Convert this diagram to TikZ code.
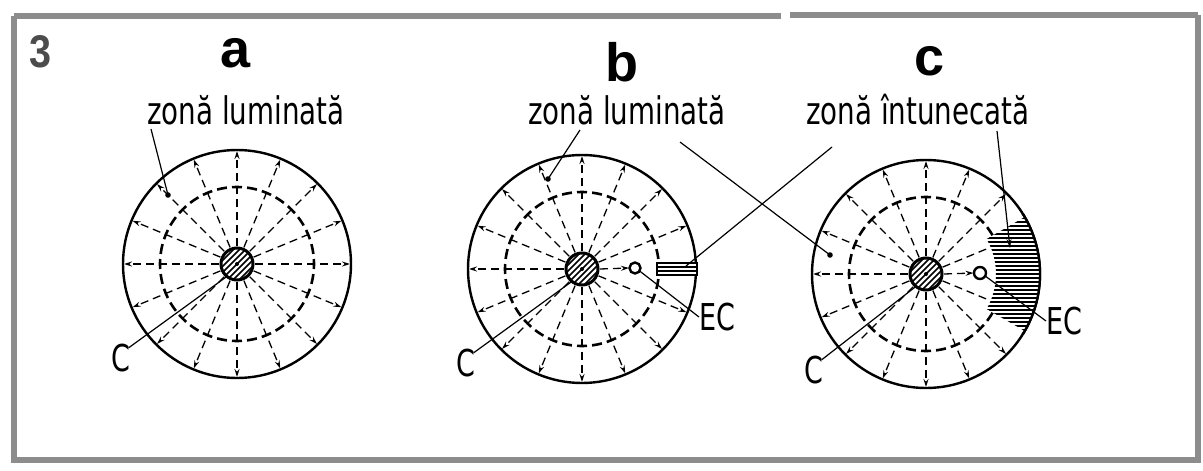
\documentclass[tikz,border=0pt]{standalone}
\usepackage{fontspec}
\usetikzlibrary{arrows.meta,calc}
\newfontfamily\din[FakeStretch=0.73]{DejaVu Sans}
\newfontfamily\headf{Liberation Sans}
\definecolor{framegray}{gray}{0.55}
\definecolor{numgray}{gray}{0.3}
\newcommand\hatchcore[1]{%
  \begin{scope}
    \clip (#1) circle (16);
    \foreach \k in {-36,-30,...,36} {\draw[line width=1.6pt] ($(#1)+(-22+\k,22)$) -- ($(#1)+(22+\k,-22)$);}
  \end{scope}
  \draw[core] (#1) circle (16);
  \fill (#1) circle (2);
}
\begin{document}
\begin{tikzpicture}[x=1pt,y=-1pt,
  outer/.style={line width=2.4pt},
  innerdash/.style={line width=2.6pt, dash pattern=on 10pt off 5.12pt, dash phase=5pt},
  radial/.style={line width=1.3pt, dash pattern=on 8pt off 5pt},
  tipped/.style={-{Stealth[length=8pt,width=5pt]}},
  leader/.style={line width=1.2pt},
  core/.style={line width=3pt},
  ecring/.style={line width=2.4pt, fill=white},
  lab/.style={font=\din\fontsize{38}{42}\selectfont, inner sep=0pt, anchor=base},
  clab/.style={font=\din\fontsize{37}{40}\selectfont, inner sep=0pt},
  big/.style={font=\headf\bfseries\fontsize{54}{60}\selectfont, inner sep=0pt, anchor=base},
  frame/.style={line width=6pt, draw=framegray},
]
\useasboundingbox (0,0) rectangle (1203,471);
% frame
\draw[frame] (14,16) -- (14,460) -- (1198,460) -- (1198,15);
\draw[frame] (14,16) -- (781,16);
\draw[frame] (790,15) -- (1198,15);

% headings
\node[text=numgray, inner sep=0pt, anchor=south] (n3) at (41,68) {\resizebox{22pt}{32pt}{\headf\bfseries 3}};
\node[big] (ha) at (236,67) {a};
\node[big] (hb) at (622,81) {b};
\node[big] (hc) at (930,75) {c};
\node[lab] (la) at (246,124) {zonă luminată};
\node[lab] (lb) at (627,124) {zonă luminată};
\node[lab] (lc) at (918,124) {zonă întunecată};

% centres
\coordinate (A) at (237,264);
\coordinate (B) at (582,269);
\coordinate (K) at (926,274);

% ---------- circle a
\draw[outer] (A) circle (114);
\draw[innerdash] (A) circle (77);
\foreach \t in {0,22.5,...,337.5} {\draw[radial,tipped] ($(A)+(\t:18)$) -- ($(A)+(\t:113)$);}
\hatchcore{A}
\coordinate (da) at (168,195);
\fill (da) circle (2.8);

% ---------- circle b
\draw[outer] (B) circle (114);
\draw[innerdash] (B) circle (77);
\foreach \t in {22.5,45,...,337.5} {\draw[radial,tipped] ($(B)+(\t:18)$) -- ($(B)+(\t:113)$);}
\coordinate (ecb) at (635,268);
\draw[radial,tipped] ($(B)+(0:18)$) -- ($(ecb)+(-6,0)$);
\hatchcore{B}
\draw[ecring] (ecb) circle (5.5);
\fill[white] (657,263) rectangle (697,275);
\draw[line width=1.6pt] (657,263) rectangle (697,275);
\draw[line width=1.6pt] (657,267) -- (697,267) (657,271) -- (697,271);
\coordinate (hb1) at (686,266);
\coordinate (db) at (548,179);
\fill (db) circle (2.8);

% ---------- circle c
\draw[outer] (K) circle (114);
\draw[innerdash] (K) circle (77);
\foreach \t in {45,67.5,...,315} {\draw[radial,tipped] ($(K)+(\t:18)$) -- ($(K)+(\t:113)$);}
\foreach \t in {22.5,-22.5} {\draw[radial] ($(K)+(\t:18)$) -- ($(K)+(\t:70)$);}
\coordinate (ecc) at (980,273);
\draw[radial,tipped] ($(K)+(0:18)$) -- ($(ecc)+(-6.5,0)$);
\hatchcore{K}
\begin{scope}
  \clip ($(K)+(-30:70)$) arc[start angle=-30,end angle=30,radius=70]
        -- ($(K)+(30:114)$) arc[start angle=30,end angle=-30,radius=114] -- cycle;
  \fill[white] (990,210) rectangle (1045,340);
  \foreach \yy in {214,218,...,336} {\draw[line width=1.3pt] (985,\yy) -- (1045,\yy);}
\end{scope}
\draw[outer] ($(K)+(-32:114)$) arc[start angle=-32,end angle=32,radius=114];
\draw[ecring] (ecc) circle (6);
\coordinate (dc) at (830,255);
\fill (dc) circle (2.8);

% ---------- labels C and EC
\node[clab] (Ca) at (121,358) {C};
\node[clab] (Cb) at (466,363) {C};
\node[clab] (Cc) at (814,370) {C};
\node[clab, anchor=west] (ECb) at (699,317) {EC};
\node[clab, anchor=west] (ECc) at (1046,321) {EC};

% ---------- leaders
\coordinate (la1) at (151,129);
\coordinate (lb1) at (580,130);
\coordinate (lb2) at (680,142);
\coordinate (lc1) at (832,147);
\coordinate (lc2) at (997,131);
\coordinate (hc1) at (1010,248);
\draw[leader] (la1) -- (da);
\draw[leader] (lb1) -- (db);
\draw[leader] (lb2) -- (dc);
\draw[leader] (lc1) -- (hb1);
\draw[leader,-{Stealth[length=9pt,width=5pt]}] (lc2) -- (hc1);
\draw[leader] (Ca.north east) ++(-2,4) -- ($(A)+(129:16)$);
\draw[leader] (Cb.north east) ++(-2,4) -- ($(B)+(129:16)$);
\draw[leader] (Cc.north east) ++(-2,4) -- ($(K)+(129:16)$);
\draw[leader] ($(ecb)+(33:5.5)$) -- (ECb.west);
\draw[leader] ($(ecc)+(30:6)$) -- (ECc.west);
\end{tikzpicture}
\end{document}
